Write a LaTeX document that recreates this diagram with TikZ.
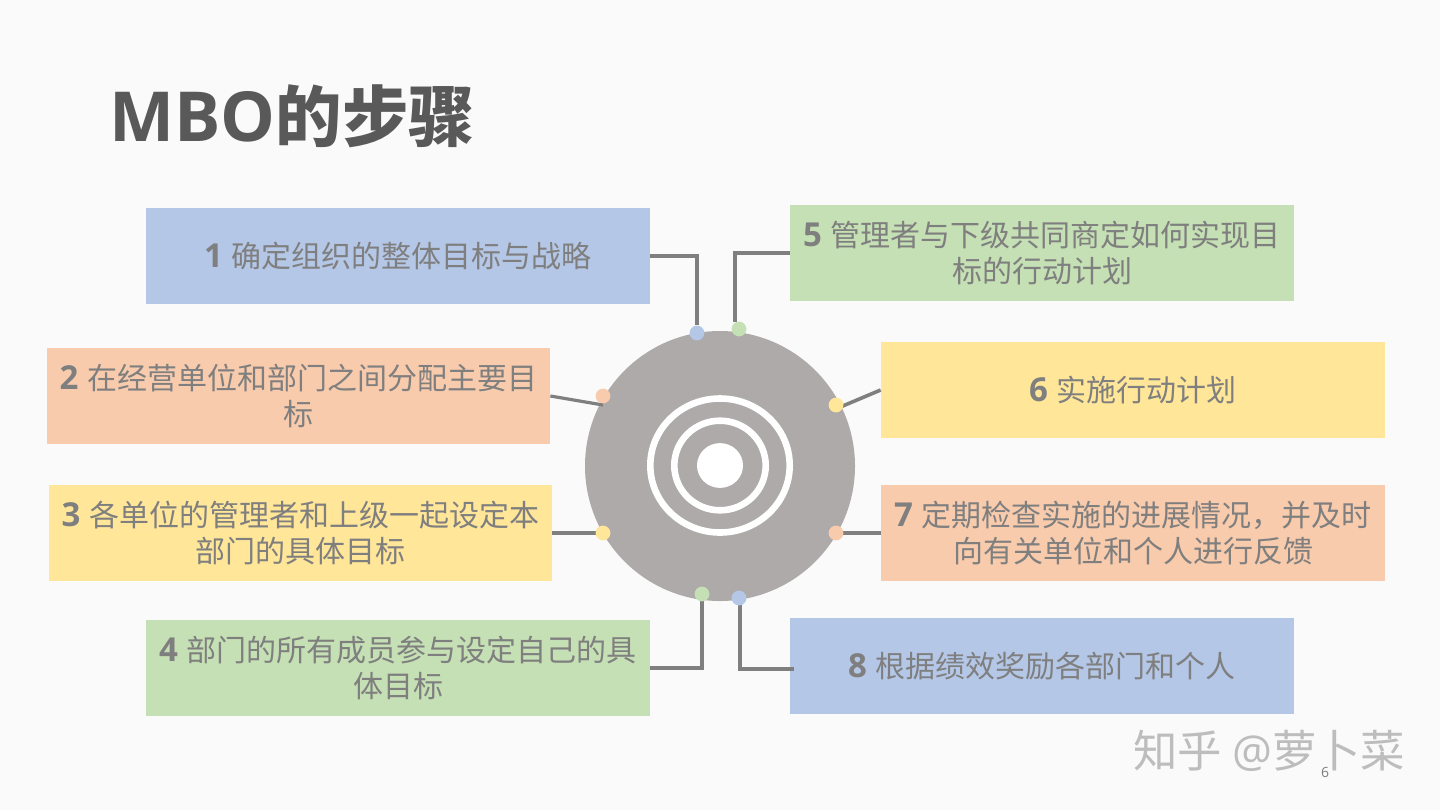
\documentclass[tikz,border=0pt]{standalone}
\usepackage{fontspec}
\setmainfont{Noto Sans CJK SC}
\newfontfamily\latn{Open Sans}
\newfontfamily\cjkb{Noto Sans CJK SC Bold}
\definecolor{bgc}{HTML}{FAFAFA}
\definecolor{blu}{HTML}{B4C7E7}
\definecolor{org}{HTML}{F8CBAD}
\definecolor{yel}{HTML}{FFE699}
\definecolor{grn}{HTML}{C5E0B4}
\definecolor{txt}{HTML}{7F7F7F}
\definecolor{ttl}{HTML}{595959}
\definecolor{disc}{HTML}{AEAAAA}
\definecolor{wm}{HTML}{BDBDBD}
\newcommand{\nm}[1]{{\fontsize{16.5pt}{18pt}\selectfont\latn\bfseries #1}\kern1pt\ }
\tikzset{
  box/.style={rectangle,inner sep=0pt,minimum width=252pt,minimum height=48pt,align=center,
    text=txt,font=\fontsize{15pt}{18pt}\selectfont},
  pin/.style={circle,inner sep=0pt,minimum size=7.4pt},
  conn/.style={draw=txt,line width=1.6pt},
  ring/.style={draw=white,line width=3.3pt},
}
\begin{document}
\begin{tikzpicture}[x=0.5pt,y=-0.5pt]
\useasboundingbox (0,0) rectangle (1440,810);
\fill[bgc] (0,0) rectangle (1440,810);
\node[anchor=base west,inner sep=0pt,text=ttl] (title) at (109,141)
  {\fontsize{34.5pt}{40pt}\selectfont\latn\bfseries MBO\cjkb\fontsize{33.2pt}{40pt}\selectfont 的步骤};

\node[circle,fill=disc,inner sep=0pt,minimum size=135pt] (hub) at (720,466) {};
\draw[ring] (720,465.5) ellipse [x radius=69.7,y radius=67];
\draw[ring] (720,465.5) ellipse [x radius=45.7,y radius=44.8];
\fill[white] (720,465.5) ellipse [x radius=23,y radius=22.4];

\node[box,fill=blu] (b1) at (398,256) {\nm{1}确定组织的整体目标与战略};
\node[box,fill=org,minimum width=251.5pt] (b2) at (298.5,396) {\nm{2}在经营单位和部门之间分配主要目\\标};
\node[box,fill=yel,minimum width=251.5pt] (b3) at (300.5,533) {\nm{3}各单位的管理者和上级一起设定本\\部门的具体目标};
\node[box,fill=grn] (b4) at (398,668) {\nm{4}部门的所有成员参与设定自己的具\\体目标};
\node[box,fill=grn] (b5) at (1042,253) {\nm{5}管理者与下级共同商定如何实现目\\标的行动计划};
\node[box,fill=yel] (b6) at (1133,390) {\nm{6}实施行动计划};
\node[box,fill=org] (b7) at (1133,533) {\nm{7}定期检查实施的进展情况，并及时\\向有关单位和个人进行反馈};
\node[box,fill=blu] (b8) at (1042,666) {\nm{8}根据绩效奖励各部门和个人};

\coordinate (e5) at (735,322);
\coordinate (e8a) at (794,669);
\coordinate (e2) at (603,405);

\draw[conn] (b1.east) -| (697,325) coordinate (e1);
\draw[conn,line width=2pt] (b5.west) -| (e5);
\draw[conn] (b2.east) -- (e2);
\draw[conn,line width=1.8pt] (b6.west) -- (838,408) coordinate (e6);
\draw[conn] (b3.east) -- (603,533) coordinate (e3);
\draw[conn] (b7.west) -- (836,533) coordinate (e7);
\draw[conn] (b4.east) -| (702,600) coordinate (e4);
\draw[conn,line width=2pt] (e8a) -| (740,600) coordinate (e8);

\node[pin,fill=blu] (d1) at (697,333) {};
\node[pin,fill=grn] (d5) at (739,329) {};
\node[pin,fill=org] (d2) at (603,396) {};
\node[pin,fill=yel] (d6) at (836,405) {};
\node[pin,fill=yel] (d3) at (603,533) {};
\node[pin,fill=org] (d7) at (836,533) {};
\node[pin,fill=grn] (d4) at (702,594) {};
\node[pin,fill=blu] (d8) at (739,598) {};

\node[anchor=base west,inner sep=0pt,text=wm] (wmt) at (1133,767)
  {\fontsize{22.2pt}{26pt}\selectfont 知乎 {\latn @}萝卜菜};
\node[inner sep=0pt,text=txt] (pg) at (1325,772) {\latn\fontsize{7pt}{8pt}\selectfont 6};
\end{tikzpicture}
\end{document}
